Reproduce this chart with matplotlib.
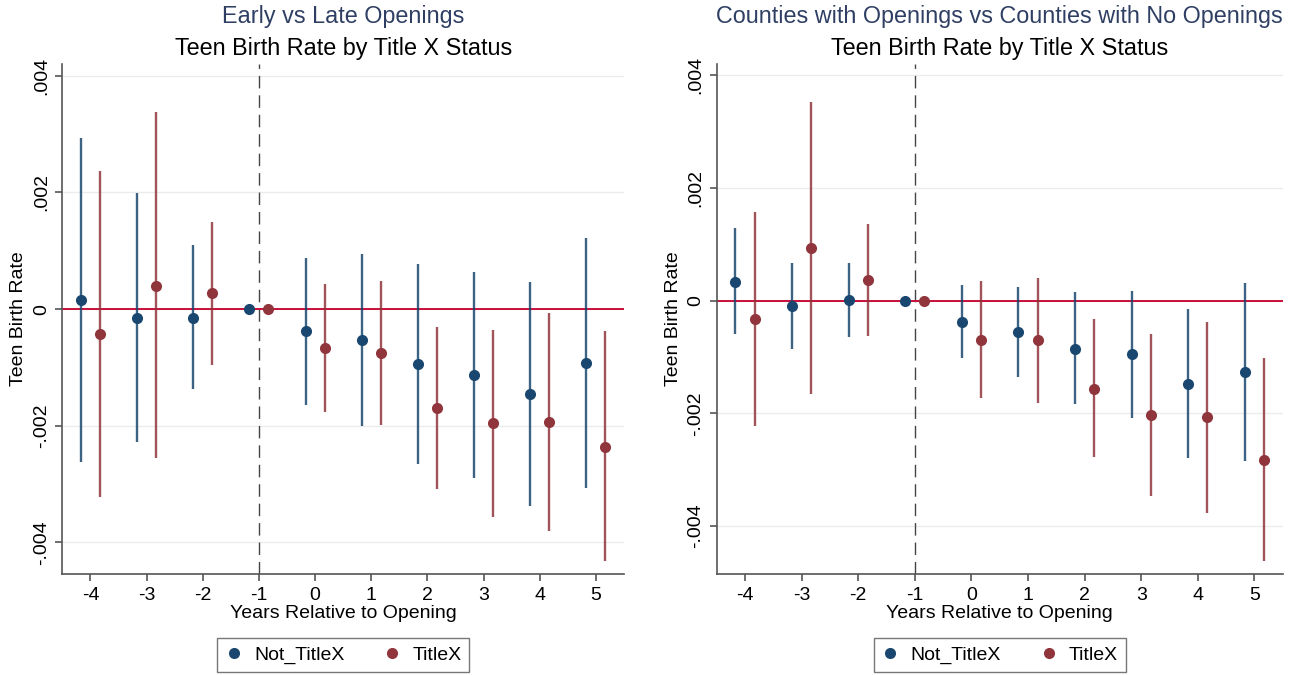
import matplotlib
matplotlib.use("Agg")
import matplotlib.pyplot as plt
import numpy as np

plt.rcParams["font.family"] = ["Liberation Sans", "DejaVu Sans"]

years = [-4, -3, -2, -1, 0, 1, 2, 3, 4, 5]

# Early vs Late Openings
early_not = [0.00016, -0.00015, -0.00015, 0.0, -0.00038, -0.00053, -0.00094, -0.00113, -0.00146, -0.00092]
early_not_hi = [0.00294, 0.00199, 0.00109, 0.0, 0.00087, 0.00094, 0.00078, 0.00063, 0.00046, 0.00121]
early_not_lo = [-0.00262, -0.00228, -0.00137, 0.0, -0.00164, -0.00200, -0.00266, -0.00289, -0.00337, -0.00306]
early_tx = [-0.00043, 0.00040, 0.00027, 0.0, -0.00067, -0.00075, -0.00170, -0.00195, -0.00194, -0.00236]
early_tx_hi = [0.00237, 0.00338, 0.00149, 0.0, 0.00043, 0.00048, -0.00030, -0.00035, -0.00006, -0.00038]
early_tx_lo = [-0.00322, -0.00256, -0.00095, 0.0, -0.00177, -0.00199, -0.00309, -0.00356, -0.00381, -0.00431]

# Counties with openings vs counties with none
cty_not = [0.00034, -0.00009, 0.00001, 0.0, -0.00038, -0.00056, -0.00085, -0.00095, -0.00147, -0.00127]
cty_not_hi = [0.00129, 0.00066, 0.00066, 0.0, 0.00028, 0.00024, 0.00015, 0.00017, -0.00015, 0.00032]
cty_not_lo = [-0.00060, -0.00085, -0.00064, 0.0, -0.00102, -0.00136, -0.00184, -0.00208, -0.00279, -0.00285]
cty_tx = [-0.00033, 0.00094, 0.00036, 0.0, -0.00069, -0.00070, -0.00156, -0.00203, -0.00207, -0.00282]
cty_tx_hi = [0.00157, 0.00353, 0.00136, 0.0, 0.00035, 0.00041, -0.00033, -0.00059, -0.00037, -0.00101]
cty_tx_lo = [-0.00223, -0.00166, -0.00063, 0.0, -0.00172, -0.00182, -0.00278, -0.00346, -0.00376, -0.00462]

yticks = [-0.004, -0.002, 0, 0.002, 0.004]
ytick_labels = ["-.004", "-.002", "0", ".002", ".004"]

navy = "#1a476f"
maroon = "#90353b"
gray = "#555555"

fig = plt.figure(figsize=(12.91, 6.75), dpi=100)
W, H = 1291, 675


def panel(left_px, right_px, ylo, title, nt, nt_hi, nt_lo, tx, tx_hi, tx_lo):
    ax = fig.add_axes([left_px / W, (H - 574) / H, (right_px - left_px) / W, 510 / H])
    x = np.array(years, dtype=float)
    off = 0.17
    for xs, m, hi, lo, c in [(x - off, nt, nt_hi, nt_lo, navy), (x + off, tx, tx_hi, tx_lo, maroon)]:
        ax.vlines(xs, lo, hi, color=c, lw=1.7, alpha=0.85, zorder=3)
        ax.plot(xs, m, "o", color=c, ms=8, mec="none", zorder=4)
    ax.axhline(0, color="#c8103a", lw=1.4, zorder=2)
    ax.axvline(-1, color="#444444", lw=1.0, ls=(0, (9, 5)), zorder=1)
    ax.set_xlim(-4.5, 5.5)
    ax.set_ylim(ylo, 0.0042)
    ax.set_xticks(years)
    ax.set_xticklabels([str(v) for v in years], fontsize=14)
    ax.set_yticks(yticks)
    ax.set_yticklabels(ytick_labels, fontsize=14, rotation=90, va="center")
    ax.grid(axis="y", color="#ececec", lw=1.0)
    ax.set_axisbelow(True)
    for s in ["top", "right"]:
        ax.spines[s].set_visible(False)
    for s in ["left", "bottom"]:
        ax.spines[s].set_color(gray)
        ax.spines[s].set_linewidth(1.2)
    ax.tick_params(colors=gray, labelcolor="black", length=5, width=1.2, pad=4)
    ax.set_xlabel("Years Relative to Opening", fontsize=14, labelpad=1)
    ax.set_ylabel("Teen Birth Rate", fontsize=14, labelpad=4)
    cx = (left_px + right_px) / 2 / W
    fig.text(cx, 1 - 17 / H, title, ha="center", va="center", fontsize=16.8, color="#2f3f63")
    fig.text(cx, 1 - 48 / H, "Teen Birth Rate by Title X Status", ha="center", va="center",
             fontsize=16.8, color="black")
    h1 = plt.Line2D([], [], marker="o", ls="none", color=navy, ms=8, mec="none")
    h2 = plt.Line2D([], [], marker="o", ls="none", color=maroon, ms=8, mec="none")
    leg = fig.legend([h1, h2], ["Not_TitleX", "TitleX"], ncol=2, loc="center",
                     bbox_to_anchor=(cx, 1 - 655 / H), bbox_transform=fig.transFigure,
                     fontsize=14, frameon=True, fancybox=False, handletextpad=0.6,
                     columnspacing=2.0, borderpad=0.4, handlelength=0.9, borderaxespad=0)
    leg.get_frame().set_edgecolor(gray)
    leg.get_frame().set_linewidth(1.0)
    return ax


panel(62.3, 624, -0.00454, "Early vs Late Openings",
      early_not, early_not_hi, early_not_lo, early_tx, early_tx_hi, early_tx_lo)
panel(716.7, 1282.7, -0.00485, "Counties with Openings vs Counties with No Openings",
      cty_not, cty_not_hi, cty_not_lo, cty_tx, cty_tx_hi, cty_tx_lo)

fig.savefig("out.png", dpi=100, facecolor="white")
